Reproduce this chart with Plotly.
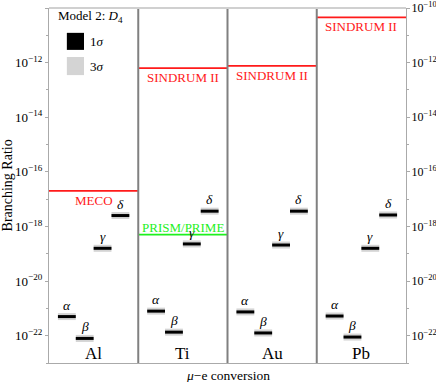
import plotly.graph_objects as go

elements = ["Al", "Ti", "Au", "Pb"]
bar_names = ["α", "β", "γ", "δ"]
# central log10 branching ratios per element, order alpha, beta, gamma, delta
br_log = {
    "Al": [-21.3, -22.1, -18.8, -17.6],
    "Ti": [-21.1, -21.87, -18.64, -17.44],
    "Au": [-21.13, -21.9, -18.68, -17.44],
    "Pb": [-21.28, -22.05, -18.8, -17.58],
}
# experimental bounds: (element index, label, log10 value, colour key)
limits = [
    (0, "MECO", -16.7, "red"),
    (1, "SINDRUM II", -12.2, "red"),
    (1, "PRISM/PRIME", -18.3, "green"),
    (2, "SINDRUM II", -12.12, "red"),
    (3, "SINDRUM II", -10.34, "red"),
]
yticks = [-10, -12, -14, -16, -18, -20, -22]
yminor = [-11, -13, -15, -17, -19, -21, -23]

colors = {"red": "#ff1a1a", "green": "#1ef01e"}
FONT = "Liberation Serif"

fig = go.Figure()

# bars (3 sigma grey underlay, 1 sigma black)
for i, el in enumerate(elements):
    for j, v in enumerate(br_log[el]):
        x0 = i + 0.1 + 0.2 * j
        x1 = x0 + 0.2
        fig.add_trace(go.Scatter(x=[x0, x1], y=[10 ** v, 10 ** v], mode="lines",
                                 line=dict(color="#d4d4d4", width=7), showlegend=False, hoverinfo="skip"))
        fig.add_trace(go.Scatter(x=[x0, x1], y=[10 ** v, 10 ** v], mode="lines",
                                 line=dict(color="black", width=3), showlegend=False, hoverinfo="skip"))
        fig.add_annotation(x=(x0 + x1) / 2, y=v, text="<i>" + bar_names[j] + "</i>", showarrow=False,
                           yanchor="bottom", yshift=2,
                           font=dict(family=FONT, size=13.5, color="black"))

# experimental limits
for i, lab, v, c in limits:
    fig.add_trace(go.Scatter(x=[i, i + 1], y=[10 ** v, 10 ** v], mode="lines",
                             line=dict(color=colors[c], width=1.8), showlegend=False, hoverinfo="skip"))
    above = c == "green"
    fig.add_annotation(x=i + 0.5, y=v, text=lab, showarrow=False,
                       yanchor="bottom" if above else "top", yshift=-2 if above else 0,
                       font=dict(family=FONT, size=13, color=colors[c]))

# element labels
for i, el in enumerate(elements):
    fig.add_annotation(x=i + 0.5, y=-22.65, text=el, showarrow=False, yanchor="middle",
                       font=dict(family=FONT, size=17, color="black"))

# dividers
for i in range(1, len(elements)):
    fig.add_shape(type="line", x0=i, x1=i, y0=0, y1=1, xref="x", yref="paper",
                  line=dict(color="#808080", width=2))
# top border
fig.add_shape(type="line", x0=0, x1=1, y0=1, y1=1, xref="paper", yref="paper",
              line=dict(color="#d0d0d0", width=2))

# legend box
fig.add_annotation(x=0.02, y=0.975, xref="paper", yref="paper", text="Model 2: <i>D</i><sub>4</sub>",
                   showarrow=False, xanchor="left", yanchor="middle",
                   font=dict(family=FONT, size=13, color="black"))
fig.add_shape(type="rect", x0=0.050, x1=0.098, y0=0.882, y1=0.930, xref="paper", yref="paper",
              fillcolor="black", line=dict(width=0))
fig.add_shape(type="rect", x0=0.050, x1=0.098, y0=0.811, y1=0.862, xref="paper", yref="paper",
              fillcolor="#d4d4d4", line=dict(width=0))
fig.add_annotation(x=0.108, y=0.906, xref="paper", yref="paper", text="1<i>σ</i>", showarrow=False,
                   xanchor="left", yanchor="middle", font=dict(family=FONT, size=13, color="black"))
fig.add_annotation(x=0.108, y=0.836, xref="paper", yref="paper", text="3<i>σ</i>", showarrow=False,
                   xanchor="left", yanchor="middle", font=dict(family=FONT, size=13, color="black"))

# axis titles
fig.add_annotation(x=-0.115, y=0.5, xref="paper", yref="paper", text="Branching Ratio", textangle=-90,
                   showarrow=False, xanchor="center", yanchor="middle",
                   font=dict(family=FONT, size=14, color="black"))
fig.add_annotation(x=0.5, y=-0.034, xref="paper", yref="paper", text="<i>μ</i>−e conversion",
                   showarrow=False, yanchor="middle", font=dict(family=FONT, size=13.5, color="black"))

ticktext = ["10<sup>−%d</sup>" % (-t) for t in yticks]
yax = dict(type="log", range=[-23, -10], tickvals=[10 ** t for t in yticks], ticktext=ticktext,
           ticks="outside", ticklen=3, tickcolor="#aaaaaa", showgrid=False, zeroline=False,
           showline=True, linecolor="#aaaaaa", linewidth=1.2, automargin=False,
           minor=dict(tickvals=[10 ** t for t in yminor], ticks="outside", ticklen=2, tickcolor="#aaaaaa"),
           tickfont=dict(family=FONT, size=13, color="black"))
fig.add_trace(go.Scatter(x=[0], y=[1e-30], yaxis="y2", mode="markers", showlegend=False,
                         marker=dict(opacity=0), hoverinfo="skip"))

fig.update_layout(
    width=436, height=382,
    margin=dict(l=49, r=30, t=8, b=19, autoexpand=False),
    paper_bgcolor="white", plot_bgcolor="white",
    xaxis=dict(range=[0, 4], showticklabels=False, ticks="", showgrid=False, zeroline=False,
               showline=True, linecolor="#aaaaaa", linewidth=1.2, automargin=False),
    yaxis=yax,
    yaxis2=dict(yax, overlaying="y", side="right", ticklabelstandoff=-1,
                tickfont=dict(family=FONT, size=12, color="black")),
)

fig.write_html("out.html", config={"displayModeBar": False},
               post_script="document.body.style.margin='0';document.body.style.overflow='hidden';")
